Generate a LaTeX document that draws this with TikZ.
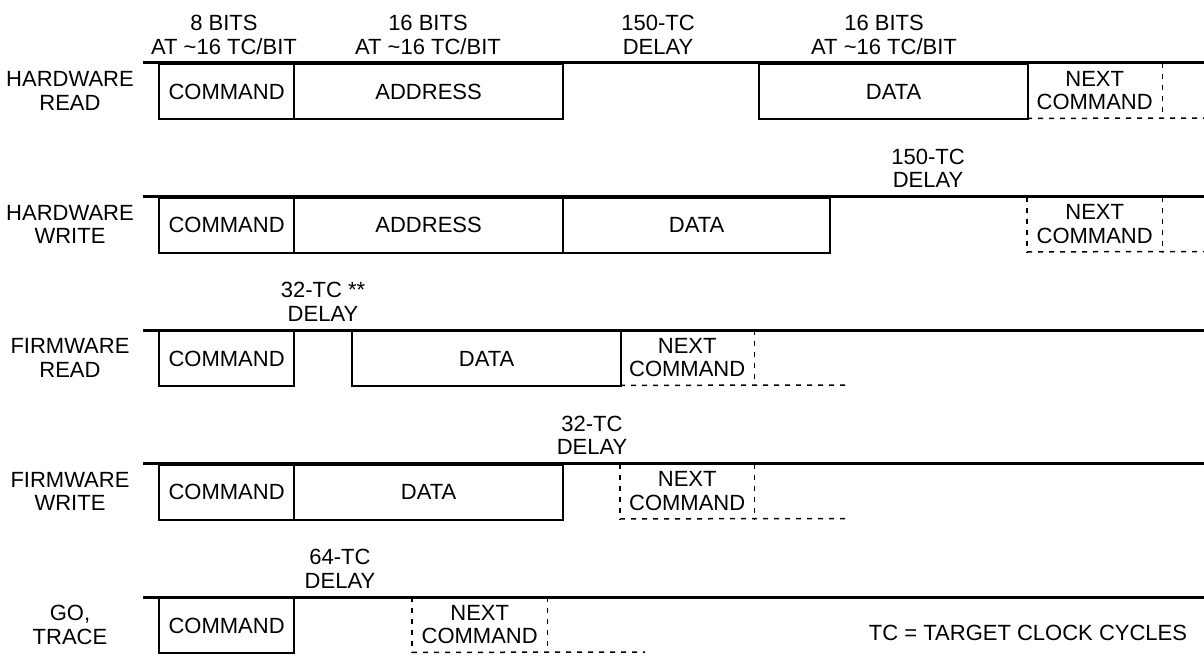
\documentclass[tikz,border=0pt]{standalone}
\usepackage{fontspec}
\setmainfont{Liberation Sans}
\newcommand{\dgfont}{\fontsize{22}{23.5}\selectfont}
\begin{document}
\begin{tikzpicture}[x=1pt,y=-1pt,
  lbl/.style={align=center, font=\dgfont, inner sep=0pt},
  seg/.style={draw, line width=2.2pt, minimum height=55pt, inner sep=0pt, anchor=north west, align=center, font=\dgfont},
  ghost/.style={minimum height=55pt, inner sep=0pt, anchor=north west, align=center, font=\dgfont},
  busline/.style={line width=3pt},
  dsh/.style={line width=1.5pt, dash pattern=on 5pt off 6pt}]
\useasboundingbox (0,0) rectangle (1204,658);

% ---------- Row 1: HARDWARE READ ----------
\coordinate (l1a) at (143,63);
\coordinate (l1b) at (1204,63);
\draw[busline] (l1a) -- (l1b);
\node[lbl] (r1) at (70,91) {HARDWARE\\READ};
\node[seg, minimum width=135pt] (cmd1) at (158,63) {COMMAND};
\node[seg, minimum width=269pt] (adr1) at (293,63) {ADDRESS};
\node[seg, minimum width=269pt] (dat1) at (758,63) {DATA};
\node[ghost, minimum width=135pt] (nx1) at (1027,63) {NEXT\\COMMAND};
\coordinate (e1) at (1204,118);
\draw[dsh] (nx1.north east) -- (nx1.south east);
\draw[dsh] (nx1.south west) -- (e1);
\node[lbl] (t1a) at (224,35) {8 BITS\\AT \char`~16 TC/BIT};
\node[lbl] (t1b) at (428,35) {16 BITS\\AT \char`~16 TC/BIT};
\node[lbl] (t1c) at (658,35) {150-TC\\DELAY};
\node[lbl] (t1d) at (884,35) {16 BITS\\AT \char`~16 TC/BIT};

% ---------- Row 2: HARDWARE WRITE ----------
\coordinate (l2a) at (143,196.5);
\coordinate (l2b) at (1204,196.5);
\draw[busline] (l2a) -- (l2b);
\node[lbl] (r2) at (70,224.5) {HARDWARE\\WRITE};
\node[seg, minimum width=135pt] (cmd2) at (158,196.5) {COMMAND};
\node[seg, minimum width=269pt] (adr2) at (293,196.5) {ADDRESS};
\node[seg, minimum width=267pt] (dat2) at (562,196.5) {DATA};
\node[ghost, minimum width=135pt] (nx2) at (1027,196.5) {NEXT\\COMMAND};
\coordinate (e2) at (1204,251.5);
\draw[dsh] (nx2.north west) -- (nx2.south west);
\draw[dsh] (nx2.north east) -- (nx2.south east);
\draw[dsh] (nx2.south west) -- (e2);
\node[lbl] (t2) at (928,168.5) {150-TC\\DELAY};

% ---------- Row 3: FIRMWARE READ ----------
\coordinate (l3a) at (143,330);
\coordinate (l3b) at (1204,330);
\draw[busline] (l3a) -- (l3b);
\node[lbl] (r3) at (70,358) {FIRMWARE\\READ};
\node[seg, minimum width=135pt] (cmd3) at (158,330) {COMMAND};
\node[seg, minimum width=269pt] (dat3) at (351,330) {DATA};
\node[ghost, minimum width=134pt] (nx3) at (620,330) {NEXT\\COMMAND};
\coordinate (e3) at (850,385);
\draw[dsh] (nx3.north east) -- (nx3.south east);
\draw[dsh] (nx3.south west) -- (e3);
\node[lbl] (t3) at (323,302) {32-TC **\\DELAY};

% ---------- Row 4: FIRMWARE WRITE ----------
\coordinate (l4a) at (143,463.5);
\coordinate (l4b) at (1204,463.5);
\draw[busline] (l4a) -- (l4b);
\node[lbl] (r4) at (70,491.5) {FIRMWARE\\WRITE};
\node[seg, minimum width=135pt] (cmd4) at (158,463.5) {COMMAND};
\node[seg, minimum width=269pt] (dat4) at (293,463.5) {DATA};
\node[ghost, minimum width=134pt] (nx4) at (620,463.5) {NEXT\\COMMAND};
\coordinate (e4) at (850,518.5);
\draw[dsh] (nx4.north west) -- (nx4.south west);
\draw[dsh] (nx4.north east) -- (nx4.south east);
\draw[dsh] (nx4.south west) -- (e4);
\node[lbl] (t4) at (592,435.5) {32-TC\\DELAY};

% ---------- Row 5: GO, TRACE ----------
\coordinate (l5a) at (143,597);
\coordinate (l5b) at (1204,597);
\draw[busline] (l5a) -- (l5b);
\node[lbl] (r5) at (70,625) {GO,\\TRACE};
\node[seg, minimum width=135pt] (cmd5) at (158,597) {COMMAND};
\node[ghost, minimum width=135pt] (nx5) at (412,597) {NEXT\\COMMAND};
\coordinate (e5) at (645,652);
\draw[dsh] (nx5.north west) -- (nx5.south west);
\draw[dsh] (nx5.north east) -- (nx5.south east);
\draw[dsh] (nx5.south west) -- (e5);
\node[lbl] (t5) at (340,569) {64-TC\\DELAY};
\node[lbl] (key) at (1028,633) {TC = TARGET CLOCK CYCLES};
\end{tikzpicture}
\end{document}
